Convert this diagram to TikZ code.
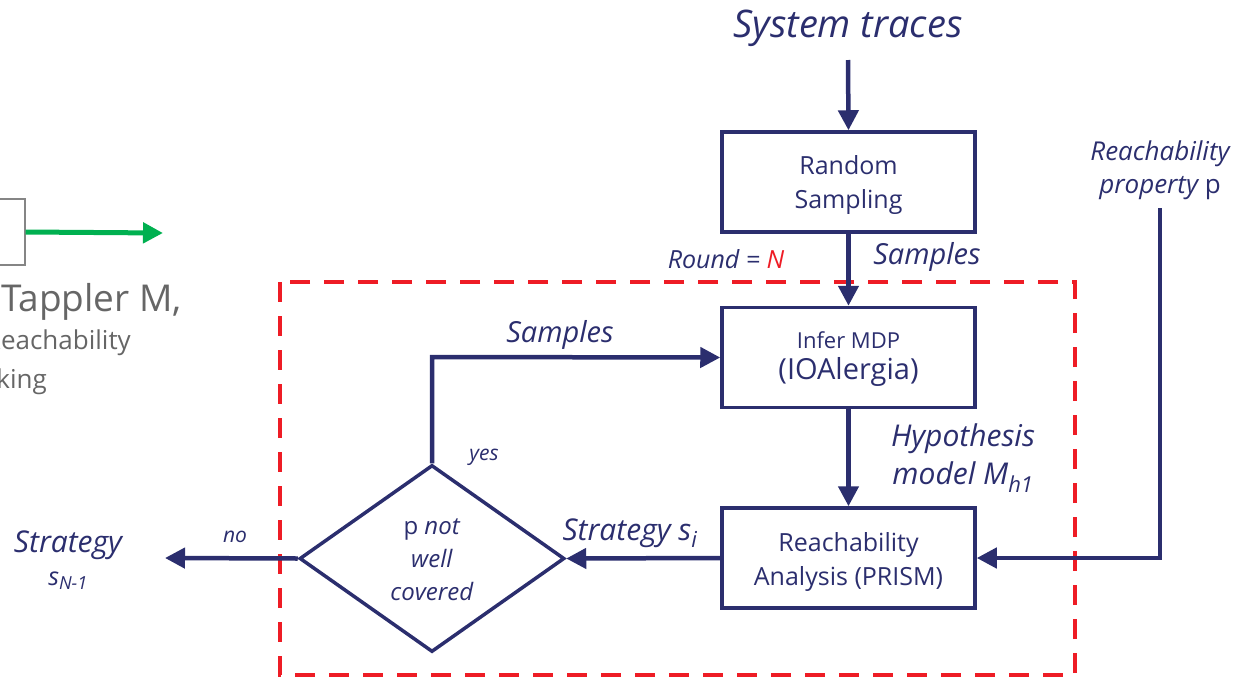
\documentclass[tikz,border=0pt]{standalone}
\usepackage{fontspec}
\setmainfont{Open Sans}
\usetikzlibrary{arrows.meta,shapes.geometric}
\definecolor{navy}{HTML}{2B2E6E}
\definecolor{dred}{HTML}{EE1C25}
\definecolor{dgreen}{HTML}{00B050}
\definecolor{dgray}{HTML}{666666}
\tikzset{
  box/.style={draw=navy,line width=3.5pt,minimum width=253pt,minimum height=100pt,inner sep=0pt},
  flow/.style={draw=navy,line width=4.5pt,-{Triangle[length=20pt,width=20pt]}},
  lbl/.style={text=navy,inner sep=0pt,align=center},
}
\newcommand{\fsz}[2]{\fontsize{#1}{#2}\selectfont}
\begin{document}
\begin{tikzpicture}[x=1pt,y=-1pt]
\useasboundingbox (0,0) rectangle (1251,678);
\clip (0,0) rectangle (1251,678);
% red dashed frame
\draw[dred,line width=4pt,dash pattern=on 20pt off 14pt] (280,282) rectangle (1075,675);
% left partial content
\node[draw=dgray!80,line width=1.2pt,minimum width=60pt,minimum height=66pt,inner sep=0pt] (prev) at (-5,232) {};
\coordinate (garr) at (163,233);
\draw[dgreen,line width=5pt,-{Triangle[length=20pt,width=20pt]}] (prev.east) -- (garr);
\node[anchor=east,text=dgray,inner sep=0pt,font=\fsz{37}{40}] (tap) at (182,302) {Tappler M,};
\node[anchor=east,text=dgray,inner sep=0pt,font=\fsz{26}{30}] (reach) at (131,343) {Reachability};
\node[anchor=east,text=dgray,inner sep=0pt,font=\fsz{26}{30}] (chk) at (47,382) {checking};
% top
\node[lbl,font=\itshape\fsz{38}{40}] (sys) at (848,28) {System traces};
\node[box] (rs) at (848.5,182) {};
\node[lbl,font=\fsz{25}{34}] (rst) at (848.5,185) {Random\\Sampling};
\node[box] (inf) at (848.5,357.5) {};
\node[lbl] (inft) at (848.5,359) {\fsz{22}{28}Infer MDP\\[7pt]\fsz{29}{34}(IOAlergia)};
\node[box] (ra) at (848.5,558) {};
\node[lbl,font=\fsz{25}{34}] (rat) at (848.5,562) {Reachability\\Analysis (PRISM)};
\node[draw=navy,line width=3.5pt,diamond,minimum width=265pt,minimum height=187pt,inner sep=0pt,aspect=1.42] (dec) at (432,558.5) {};
\node[text=navy,align=center,inner sep=0pt,font=\fsz{24}{33}] (dect) at (432,560) {p \textit{not}\\\textit{well}\\\textit{covered}};
\draw[flow] (sys.south |- 0,60) -- (rs.north);
\draw[flow] (rs.south) -- (inf.north);
\draw[flow] (inf.south) -- (ra.north);
\draw[flow] (ra.west) -- (dec.east);
\coordinate (yc) at (432,357);
\draw[flow] (dec.north) -- (yc) -- (inf.west);
\coordinate (noend) at (165,558);
\draw[flow] (dec.west) -- (noend);
% reachability property
\node[lbl,font=\itshape\fsz{26}{33}] (rp) at (1160,170) {Reachability\\property \upshape p};
\coordinate (rptop) at (1160,208);
\coordinate (rpc) at (1160,558);
\draw[flow] (rptop) -- (rpc) -- (ra.east);
% labels
\node[lbl,font=\itshape\fsz{25}{28}] (round) at (726,259) {Round = \textcolor{dred}{N}};
\node[lbl,font=\itshape\fsz{29}{32}] (samp1) at (927,257) {Samples};
\node[lbl,font=\itshape\fsz{29}{32}] (samp2) at (560,335) {Samples};
\node[lbl,font=\itshape\fsz{30}{38}] (hyp) at (963,458) {Hypothesis\\model M\textsubscript{\fsz{22}{22}h1}};
\node[lbl,font=\itshape\fsz{30}{32}] (strat) at (630,533) {Strategy s\textsubscript{\fsz{22}{22}i}};
\node[lbl,font=\itshape\fsz{21}{24}] (yes) at (484,457) {yes};
\node[lbl,font=\itshape\fsz{21}{24}] (no) at (235,537) {no};
\node[lbl,font=\itshape\fsz{30}{32}] (sn) at (68,545) {Strategy};
\node[lbl,font=\itshape\fsz{25}{28}] (sn1) at (68,581) {s\textsubscript{\fsz{18}{18}N-1}};
\end{tikzpicture}
\end{document}
